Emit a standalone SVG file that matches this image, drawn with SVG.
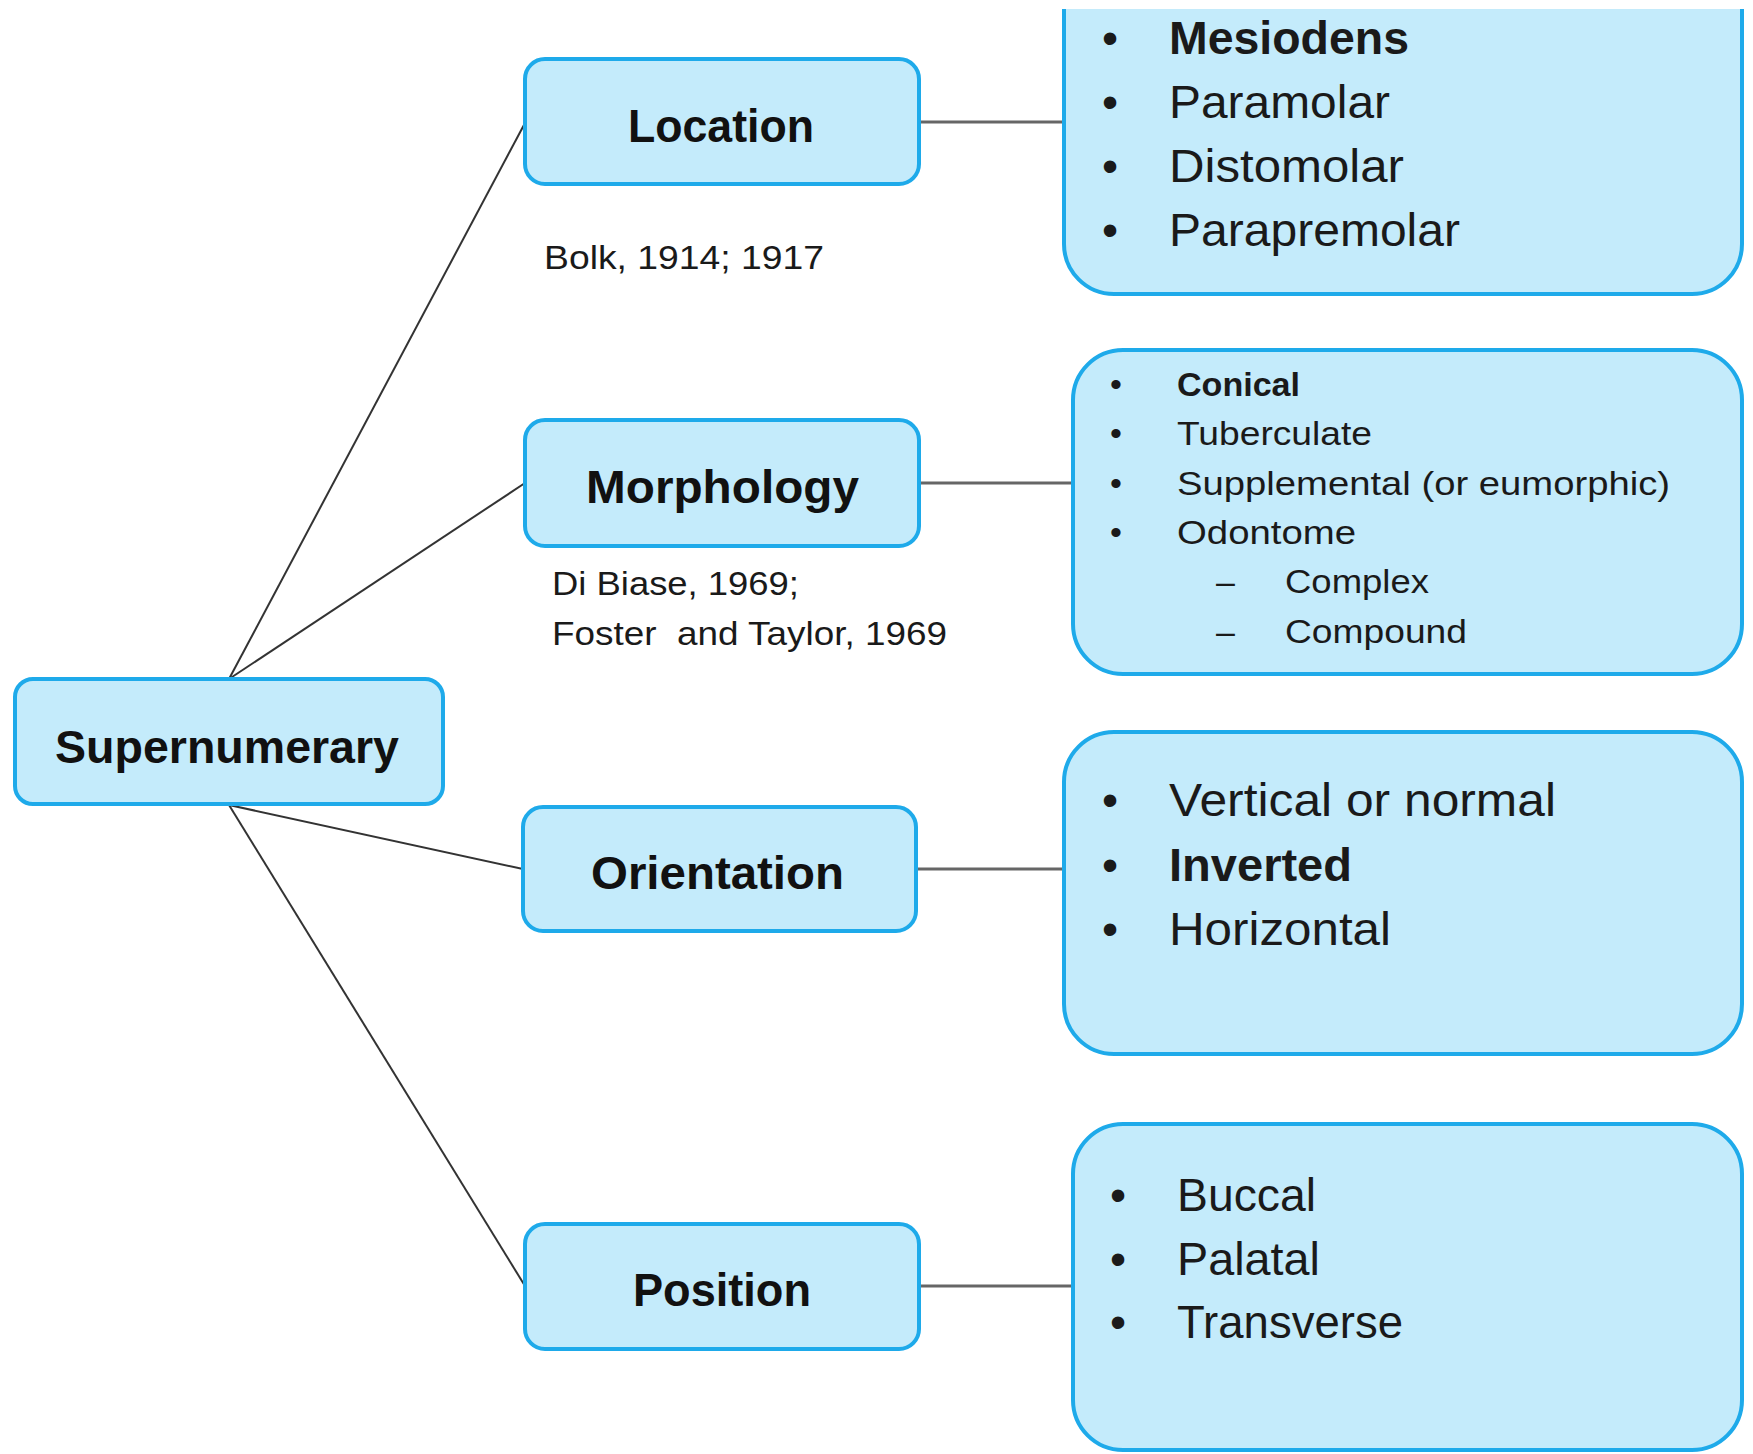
<svg xmlns="http://www.w3.org/2000/svg" width="1753" height="1454" viewBox="0 0 1753 1454">
<style>
.box{fill:#c4ebfb;stroke:#1eaaea;stroke-width:4}
.lbl{font-family:"Liberation Sans",Arial,sans-serif;font-weight:bold;font-size:46px;fill:#111}
.it{font-family:"Liberation Sans",Arial,sans-serif;font-size:46px;fill:#1a1a1a}
.sm{font-family:"Liberation Sans",Arial,sans-serif;font-size:34px;fill:#1a1a1a}
.b{font-weight:bold}
.ln{stroke:#333;stroke-width:2;fill:none}
.hl{stroke:#666;stroke-width:3;fill:none}
</style>
<rect width="1753" height="1454" fill="#fff"/>
<g id="connectors">
<line class="ln" x1="229" y1="679" x2="525" y2="123"/>
<line class="ln" x1="229" y1="679" x2="525" y2="483" stroke="#666"/>
<line class="ln" x1="229" y1="805" x2="523" y2="869" stroke-width="3"/>
<line class="ln" x1="229" y1="805" x2="525" y2="1286"/>
<line class="hl" x1="919" y1="122" x2="1064" y2="122"/>
<line class="hl" x1="919" y1="483" x2="1073" y2="483"/>
<line class="hl" x1="916" y1="869" x2="1073" y2="869"/>
<line class="hl" x1="919" y1="1286" x2="1073" y2="1286"/>
</g>
<g id="supernumerary">
<rect class="box" x="15" y="679" width="428" height="125" rx="18"/>
<text class="lbl" x="55" y="763" textLength="344" lengthAdjust="spacingAndGlyphs">Supernumerary</text>
</g>
<g id="location">
<rect class="box" x="525" y="59" width="394" height="125" rx="20"/>
<text class="lbl" x="628" y="142" textLength="186" lengthAdjust="spacingAndGlyphs">Location</text>
</g>
<g id="morphology">
<rect class="box" x="525" y="420" width="394" height="126" rx="20"/>
<text class="lbl" x="586" y="503" textLength="273" lengthAdjust="spacingAndGlyphs">Morphology</text>
</g>
<g id="orientation">
<rect class="box" x="523" y="807" width="393" height="124" rx="20"/>
<text class="lbl" x="591" y="889" textLength="253" lengthAdjust="spacingAndGlyphs">Orientation</text>
</g>
<g id="position">
<rect class="box" x="525" y="1224" width="394" height="125" rx="20"/>
<text class="lbl" x="633" y="1306" textLength="178" lengthAdjust="spacingAndGlyphs">Position</text>
</g>
<g id="cite-location">
<text class="sm" x="544" y="269" textLength="280" lengthAdjust="spacingAndGlyphs">Bolk, 1914; 1917</text>
</g>
<g id="cite-morphology">
<text class="sm" x="552" y="595" textLength="247" lengthAdjust="spacingAndGlyphs">Di Biase, 1969;</text>
<text class="sm" x="552" y="645" textLength="395" lengthAdjust="spacingAndGlyphs" xml:space="preserve">Foster  and Taylor, 1969</text>
</g>
<g id="location-list">
<rect class="box" x="1064" y="-60" width="678" height="354" rx="50"/>
<rect x="1040" y="0" width="713" height="9" fill="#fff"/>
<g class="it">
<text x="1102" y="54">•</text><text class="b" x="1169" y="54" textLength="240" lengthAdjust="spacingAndGlyphs">Mesiodens</text>
<text x="1102" y="118">•</text><text x="1169" y="118" textLength="221" lengthAdjust="spacingAndGlyphs">Paramolar</text>
<text x="1102" y="182">•</text><text x="1169" y="182" textLength="235" lengthAdjust="spacingAndGlyphs">Distomolar</text>
<text x="1102" y="246">•</text><text x="1169" y="246" textLength="291" lengthAdjust="spacingAndGlyphs">Parapremolar</text>
</g>
</g>
<g id="morphology-list">
<rect class="box" x="1073" y="350" width="669" height="324" rx="50"/>
<g class="sm">
<text x="1110" y="396">•</text><text class="b" x="1177" y="396" textLength="123" lengthAdjust="spacingAndGlyphs">Conical</text>
<text x="1110" y="445">•</text><text x="1177" y="445" textLength="195" lengthAdjust="spacingAndGlyphs">Tuberculate</text>
<text x="1110" y="495">•</text><text x="1177" y="495" textLength="493" lengthAdjust="spacingAndGlyphs">Supplemental (or eumorphic)</text>
<text x="1110" y="544">•</text><text x="1177" y="544" textLength="179" lengthAdjust="spacingAndGlyphs">Odontome</text>
<text x="1216" y="593">–</text><text x="1285" y="593" textLength="144" lengthAdjust="spacingAndGlyphs">Complex</text>
<text x="1216" y="643">–</text><text x="1285" y="643" textLength="182" lengthAdjust="spacingAndGlyphs">Compound</text>
</g>
</g>
<g id="orientation-list">
<rect class="box" x="1064" y="732" width="678" height="322" rx="50"/>
<g class="it">
<text x="1102" y="816">•</text><text x="1169" y="816" textLength="387" lengthAdjust="spacingAndGlyphs">Vertical or normal</text>
<text x="1102" y="881">•</text><text class="b" x="1169" y="881" textLength="183" lengthAdjust="spacingAndGlyphs">Inverted</text>
<text x="1102" y="945">•</text><text x="1169" y="945" textLength="222" lengthAdjust="spacingAndGlyphs">Horizontal</text>
</g>
</g>
<g id="position-list">
<rect class="box" x="1073" y="1124" width="669" height="326" rx="50"/>
<g class="it">
<text x="1110" y="1211">•</text><text x="1177" y="1211" textLength="139" lengthAdjust="spacingAndGlyphs">Buccal</text>
<text x="1110" y="1275">•</text><text x="1177" y="1275" textLength="143" lengthAdjust="spacingAndGlyphs">Palatal</text>
<text x="1110" y="1338">•</text><text x="1177" y="1338" textLength="226" lengthAdjust="spacingAndGlyphs">Transverse</text>
</g>
</g>
</svg>
